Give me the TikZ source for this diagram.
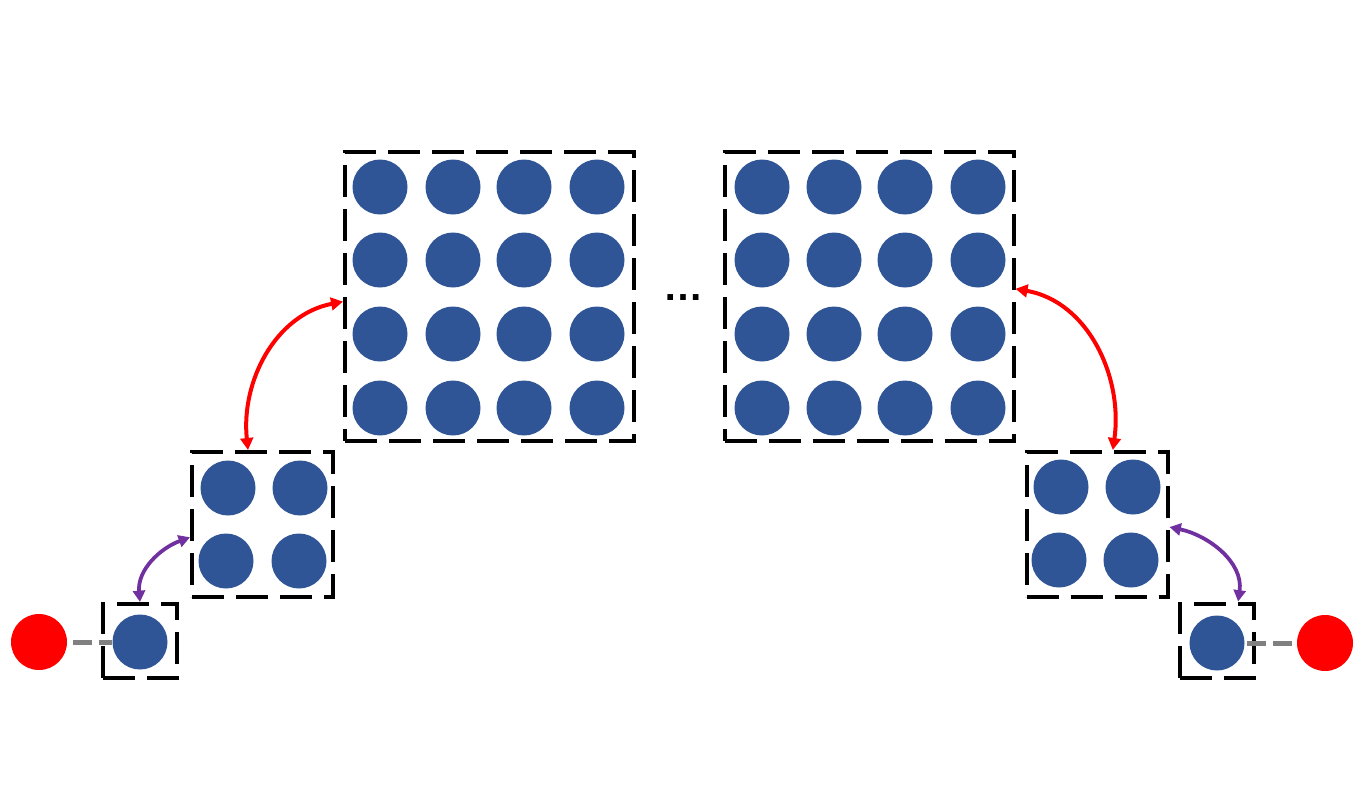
\documentclass[tikz,border=0pt]{standalone}
\usepackage{fontspec}
\setmainfont{Liberation Sans}
\usetikzlibrary{arrows.meta}
\definecolor{dotblue}{HTML}{2F5597}
\definecolor{dotred}{HTML}{FF0000}
\definecolor{arrred}{HTML}{FF0000}
\definecolor{arrpurple}{HTML}{7030A0}
\definecolor{linkgray}{HTML}{808080}
\tikzset{
  boxdash/.style={draw=black, line width=3pt, dash pattern=on 24pt off 9pt, inner sep=0pt, fill=none},
  bigbox/.style={boxdash, minimum width=216.75pt, minimum height=216.75pt},
  midbox/.style={boxdash, minimum width=105.75pt, minimum height=108.75pt},
  smallbox/.style={boxdash, minimum width=55.5pt, minimum height=55.5pt},
  qdot/.style={circle, fill=dotblue, draw=none, inner sep=0pt, minimum size=41.25pt},
  edot/.style={circle, fill=dotred, draw=none, inner sep=0pt, minimum size=42pt},
  redarr/.style={draw=arrred, line width=3pt, {Triangle[length=9pt,width=9.5pt]}-{Triangle[length=9pt,width=9.5pt]}},
  purparr/.style={draw=arrpurple, line width=2.8pt, {Triangle[length=8.5pt,width=9pt]}-{Triangle[length=8.5pt,width=9pt]}},
  graylink/.style={draw=linkgray, line width=3.75pt, dash pattern=on 14pt off 5.5pt}
}
\begin{document}
\begin{tikzpicture}[x=0.75pt,y=0.75pt]
\useasboundingbox (0,0) rectangle (1360,-800);
\fill[white] (0,0) rectangle (1360,-800);

% boxes
\node[bigbox] (bl) at (489.5,-296.5) {};
\node[bigbox] (br) at (869,-296.5) {};
\node[midbox] (m1) at (262.5,-524.5) {};
\node[midbox] (m2) at (1097,-524.5) {};
\node[smallbox] (s1) at (140,-641) {};
\node[smallbox] (s2) at (1216.5,-640.5) {};

% big box qubits
\foreach \y [count=\j] in {187,260,334,408} {
  \foreach \x [count=\i] in {380,453,524,597} {
    \node[qdot] (bl-\j-\i) at (\x,-\y) {};
  }
  \foreach \x [count=\i] in {762,834,905,978} {
    \node[qdot] (br-\j-\i) at (\x,-\y) {};
  }
}
% medium qubits
\node[qdot] (m1-1-1) at (228,-488) {};
\node[qdot] (m1-1-2) at (300,-488) {};
\node[qdot] (m1-2-1) at (226,-561) {};
\node[qdot] (m1-2-2) at (299,-561) {};
\node[qdot] (m2-1-1) at (1061,-487) {};
\node[qdot] (m2-1-2) at (1133,-487) {};
\node[qdot] (m2-2-1) at (1059,-560) {};
\node[qdot] (m2-2-2) at (1131,-560) {};
% small qubits
\node[qdot] (s1-q) at (140,-642) {};
\node[qdot] (s2-q) at (1217,-643) {};
% red end points
\node[edot] (e1) at (39,-642) {};
\node[edot] (e2) at (1325,-643) {};

% gray links
\draw[graylink, dash phase=15pt] (e1.east) -- (s1-q.west);
\draw[graylink, dash phase=17.5pt] (s2-q.east) -- (e2.west);

% ellipsis
\node[anchor=base, inner sep=0pt, font=\fontsize{30}{30}\selectfont\bfseries] (ell) at (683,-300) {…};

% arrows
\draw[redarr] (m1.101) to[out=96,in=191] (bl.182);
\draw[redarr] (br.3) to[out=-10,in=82] (m2.78);
\draw[purparr] (s1.north) to[out=95,in=200] (m1.190);
\draw[purparr] (m2.-2) to[out=-12,in=82] (s2.61);
\end{tikzpicture}
\end{document}
